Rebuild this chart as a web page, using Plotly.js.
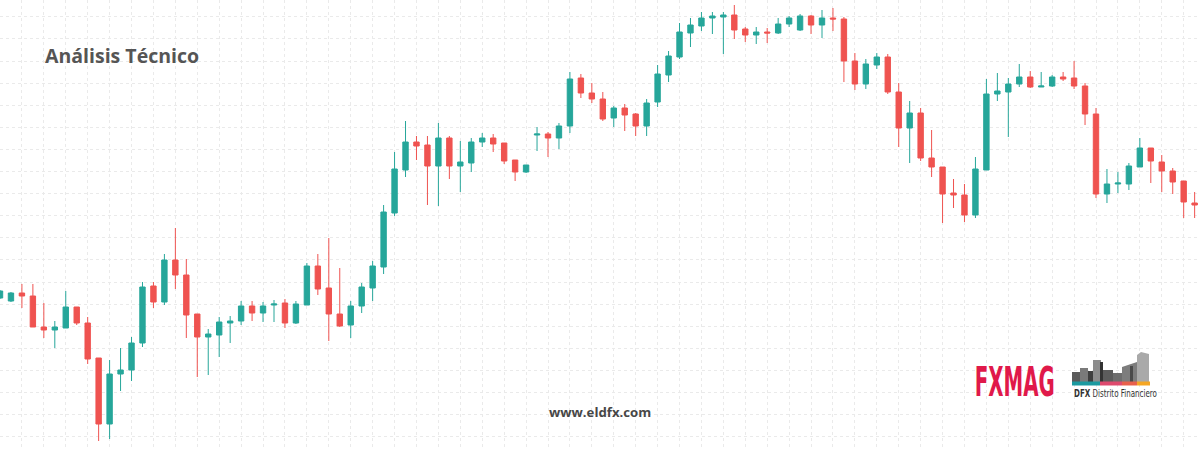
<!DOCTYPE html>
<html>
<head>
<meta charset="utf-8">
<script src="https://cdn.plot.ly/plotly-3.0.1.min.js"></script>
<style>html,body{margin:0;padding:0;background:#fff;}#chart{width:1200px;height:450px;}</style>
</head>
<body>
<div id="chart"></div>
<script>
// Candle index (session number)
const session = Array.from({length: 110}, (_, i) => i);
// Values (price units)
const openV = [152,149,157,154,123,120,122,143,127,92,26,76,80,107,164,148,190,175,136,113,115,127,129,144,137,145,147,127,145,184,
  162,136,125,144,162,183,237,280,308,305,284,312,284,287,308,312,307,290,278,315,316,312,324,372,357,351,332,342,336,324,
  348,375,393,417,424,432,433,435,421,415,418,417,426,420,434,425,432,431,389,366,385,393,358,322,337,292,283,257,255,235,
  280,356,358,366,373,363,364,373,372,364,336,256,266,266,283,302,288,279,269,247];
const highV = [160,158,166,166,147,129,159,143,133,92,90,102,113,168,168,196,222,191,136,121,133,134,149,149,148,150,151,149,187,196,
  212,182,149,167,189,245,298,329,314,314,327,314,309,312,317,316,307,290,285,323,318,327,378,376,367,358,344,346,337,351,
  385,399,427,432,438,438,438,445,423,423,422,432,434,436,435,440,442,433,397,391,397,396,367,349,342,320,283,271,266,293,
  371,377,372,386,379,378,375,378,389,367,342,281,278,287,312,302,295,282,269,258];
const lowV = [151,148,142,123,112,102,122,125,86,9,11,59,69,103,142,145,161,112,73,75,93,107,125,129,128,128,122,126,145,155,
  109,123,112,137,149,176,234,273,290,245,244,271,258,278,303,298,286,269,277,299,293,301,317,352,347,329,323,319,314,314,
  343,368,391,403,419,416,396,411,408,406,407,416,423,419,416,412,419,368,360,361,381,356,303,287,289,273,227,242,228,232,
  280,349,313,363,362,363,363,369,361,325,252,247,257,260,283,267,258,256,232,232];
const closeV = [159,157,154,123,120,123,143,127,91,26,76,80,107,163,148,190,175,135,113,116,128,129,144,137,144,146,127,146,184,161,
  136,124,144,163,184,238,281,308,304,284,312,284,288,308,312,306,289,278,285,316,312,324,371,357,351,331,342,335,324,347,
  376,394,418,425,432,434,435,420,415,418,417,426,432,434,425,432,431,389,366,386,393,358,322,337,292,283,256,255,235,281,
  356,359,366,373,363,364,373,371,364,336,256,266,267,284,302,289,279,268,248,245];

const UP = '#26a69a', DOWN = '#ef5350';

const W = 1200, H = 450;
const px = x => x / W;
const py = y => 1 - y / H;
function rect(x0, y0, x1, y1, color) {
  return {type: 'rect', xref: 'paper', yref: 'paper', x0: px(x0), x1: px(x1), y0: py(y1), y1: py(y0),
    fillcolor: color, line: {width: 0}, layer: 'above'};
}
function poly(pts, color) {
  const d = 'M' + pts.map(p => px(p[0]) + ',' + py(p[1])).join(' L') + ' Z';
  return {type: 'path', xref: 'paper', yref: 'paper', path: d, fillcolor: color, line: {width: 0}, layer: 'above'};
}

// DFX skyline logo (decoration)
const logoShapes = [
  rect(1072, 372, 1080, 383, '#5a5a5a'),
  rect(1080, 368, 1088, 383, '#7a7a7a'),
  rect(1088, 371, 1093, 383, '#3f3f3f'),
  rect(1093, 360, 1101, 383, '#8c8c8c'),
  rect(1100, 362, 1103, 383, '#333333'),
  rect(1103, 370, 1113, 383, '#5c5c5c'),
  rect(1113, 373, 1122, 383, '#6e6e6e'),
  poly([[1122, 383], [1122, 367], [1137, 362], [1137, 383]], '#7d7d7d'),
  rect(1130, 366, 1133, 383, '#4a4a4a'),
  poly([[1137, 383], [1137, 355], [1141, 352], [1149, 354], [1149, 383]], '#a9a9a9'),
  rect(1072, 381.5, 1100, 385.5, '#1b9aa0'),
  rect(1100, 381.5, 1122, 385.5, '#de4a6e'),
  rect(1122, 381.5, 1137, 385.5, '#e8604c'),
  rect(1137, 381.5, 1150, 385.5, '#f5a623')
];

const trace = {
  type: 'candlestick',
  x: session, open: openV, high: highV, low: lowV, close: closeV,
  increasing: {line: {color: UP, width: 1}, fillcolor: UP},
  decreasing: {line: {color: DOWN, width: 1}, fillcolor: DOWN},
  whiskerwidth: 0,
  hoverinfo: 'skip'
};

const gridStyle = {showgrid: true, gridcolor: '#eaeaea', griddash: '3px,3px', gridwidth: 1,
  showticklabels: false, ticks: '', zeroline: false, showline: false, fixedrange: true};

const layout = {
  width: W, height: H,
  margin: {l: 0, r: 0, t: 0, b: 0, pad: 0},
  paper_bgcolor: '#ffffff', plot_bgcolor: '#ffffff',
  showlegend: false,
  xaxis: Object.assign({}, gridStyle, {range: [0, 1200 / 10.96], tick0: 0, dtick: 2, rangeslider: {visible: false}}),
  yaxis: Object.assign({}, gridStyle, {range: [0, 450], tick0: 433.2, dtick: 22.1}),
  shapes: logoShapes,
  annotations: [
    {text: 'Análisis Técnico', xref: 'paper', yref: 'paper', x: px(43), y: py(55), xanchor: 'left', yanchor: 'middle',
      showarrow: false, font: {family: 'Open Sans', size: 19.5, weight: 700, color: '#555555'}},
    {text: 'www.eldfx.com', xref: 'paper', yref: 'paper', x: px(600), y: py(412), xanchor: 'center', yanchor: 'middle',
      showarrow: false, font: {family: 'Open Sans', size: 13.2, weight: 700, color: '#474747'}},
    {text: 'FXMAG', xref: 'paper', yref: 'paper', x: px(1015), y: py(382), xanchor: 'center', yanchor: 'middle',
      showarrow: false, font: {family: 'Liberation Sans Narrow, DejaVu Sans Condensed, Arial Narrow, sans-serif', size: 40, weight: 700, color: '#e0194a'}},
    {text: '<b>DFX</b> Distrito Financiero', xref: 'paper', yref: 'paper', x: px(1072), y: py(393), xanchor: 'left', yanchor: 'middle',
      showarrow: false, font: {family: 'Liberation Sans Narrow, DejaVu Sans Condensed, sans-serif', size: 11, color: '#333333'}}
  ]
};

Plotly.newPlot('chart', [trace], layout, {staticPlot: true, displayModeBar: false}).then(gd => {
  // Condense logo-type texts horizontally to match the narrow lettering
  const targets = {'FXMAG': 80, 'DFX Distrito Financiero': 83};
  gd.querySelectorAll('g.annotation').forEach(g => {
    const t = g.querySelector('text.annotation-text');
    if (!t) return;
    const want = targets[t.textContent];
    if (!want) return;
    const bb = t.getBBox();
    const s = want / bb.width;
    const ax = t.textContent === 'FXMAG' ? bb.x + bb.width / 2 : bb.x;
    t.setAttribute('transform', `translate(${ax},0) scale(${s},1) translate(${-ax},0)`);
  });
});
</script>
</body>
</html>
